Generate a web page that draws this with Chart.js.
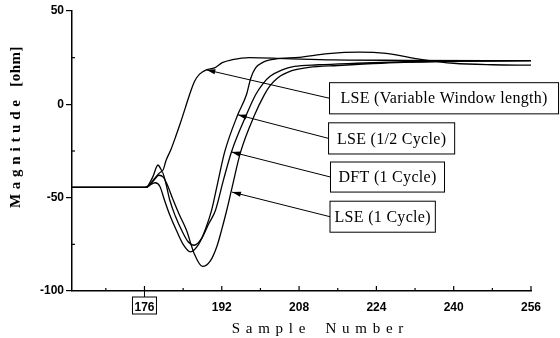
<!DOCTYPE html>
<html>
<head>
<meta charset="utf-8">
<script src="https://cdn.jsdelivr.net/npm/chart.js@4.4.0/dist/chart.umd.min.js"></script>
<style>
  html, body { margin: 0; padding: 0; background: #fff; }
  #wrap { width: 560px; height: 338px; }
  canvas { background: #fff; }
</style>
</head>
<body>
<div id="wrap"><canvas id="impedanceChart" width="560" height="338"></canvas></div>
<script>
// tick values
const xTicks = [176, 192, 208, 224, 240, 256];
const xMinorTicks = [168, 184, 200, 216, 232, 248];
const yTicks = [-100, -50, 0, 50];
const yMinorTicks = [-75, -25, 25];

// LSE (variable window length)
const vwSample = [161, 176.3, 177.7, 178.8, 179.7, 180.5, 181.5, 182.5, 183.5, 184.5, 185.5, 186.4, 187.4, 188.8, 190.5, 192.1, 194.2, 197.7, 205, 215, 230, 256];
const vwMag = [-44.5, -44.5, -39, -32.5, -35.6, -29.8, -24, -17, -9.5, -1.5, 6.5, 12.5, 16.2, 18.5, 19.5, 22.3, 23.9, 25, 24.5, 23.8, 23.6, 23.4];

// LSE (1/2 cycle)
const halfSample = [161, 176, 177, 178.2, 179.2, 180.1, 181.2, 182.6, 184, 185.5, 187.2, 188.6, 189.9, 191.2, 192.6, 195.3, 197.1, 198, 199, 200.5, 203, 208, 214, 220.5, 226, 233.5, 240, 248, 256];
const halfMag = [-44.5, -44.5, -43.5, -42, -44, -51, -59, -67.5, -75, -79, -75, -67, -56.7, -41.5, -25.5, -5.6, 5.1, 14, 19.5, 22.5, 24.2, 25.2, 27.2, 28, 27.3, 24, 22, 21.2, 21];

// DFT (1 cycle)
const dftSample = [161, 176.4, 178, 179.6, 180.4, 181.2, 182.4, 183.7, 185, 186.3, 187.8, 189.3, 190.7, 192.3, 194, 197.1, 199, 200.5, 202, 204.5, 207, 212, 220, 230, 240, 256];
const dftMag = [-44.5, -44.5, -40, -36, -42, -51, -60, -67.5, -73.5, -75.5, -72, -64, -56.7, -41, -25.5, -5.6, 5.1, 11, 15, 18.5, 20.3, 21.2, 22, 22.8, 23.2, 23.4];

// LSE (1 cycle)
const fullSample = [161, 176.3, 177.7, 179, 179.9, 180.7, 181.9, 183.2, 184.7, 186.3, 188, 189.6, 191, 192, 193, 194, 195.9, 198.8, 200.8, 202, 203.5, 206.5, 210, 216, 225, 240, 256];
const fullMag = [-44.5, -44.5, -41.5, -38, -39, -43, -51, -59, -67.5, -80, -86.8, -84, -76, -67, -57, -46, -25.5, -5.6, 5.1, 10, 14, 18, 19.8, 20.8, 22, 23, 23.4];

const toPoints = (xs, ys) => xs.map((v, i) => ({ x: v, y: ys[i] }));

// label boxes (data units) and where their arrows point
const callouts = [
  { text: 'LSE (Variable Window length)', x0: 214.3, x1: 261.7, yTop: 11.6, yBot: -5.1, tipX: 188.8, tipY: 18.5 },
  { text: 'LSE (1/2 Cycle)', x0: 214.1, x1: 240.2, yTop: -9.9, yBot: -26.6, tipX: 195.3, tipY: -5.6 },
  { text: 'DFT (1 Cycle)', x0: 214.5, x1: 238.1, yTop: -30.9, yBot: -47, tipX: 194.0, tipY: -25.5 },
  { text: 'LSE (1 Cycle)', x0: 214.4, x1: 236.2, yTop: -51.9, yBot: -68.5, tipX: 194.1, tipY: -47 }
];

const tickFont = { family: '"Liberation Sans", Arial, sans-serif', size: 12, weight: 'bold' };
const serif = '"Liberation Serif", "Times New Roman", serif';

function seg(ctx, x1, y1, x2, y2) {
  ctx.beginPath();
  ctx.moveTo(x1, y1);
  ctx.lineTo(x2, y2);
  ctx.stroke();
}

function arrow(ctx, fx, fy, tx, ty) {
  seg(ctx, fx, fy, tx, ty);
  const ang = Math.atan2(ty - fy, tx - fx);
  const len = 9, half = 2.6;
  ctx.beginPath();
  ctx.moveTo(tx, ty);
  ctx.lineTo(tx - len * Math.cos(ang) + half * Math.sin(ang), ty - len * Math.sin(ang) - half * Math.cos(ang));
  ctx.lineTo(tx - len * Math.cos(ang) - half * Math.sin(ang), ty - len * Math.sin(ang) + half * Math.cos(ang));
  ctx.closePath();
  ctx.fill();
}

// inner ticks, boxed 176 label, axis titles and the callouts
const decorations = {
  id: 'decorations',
  afterDraw(chart) {
    const { ctx, chartArea: a, scales: { x, y } } = chart;
    ctx.save();
    ctx.strokeStyle = '#000';
    ctx.fillStyle = '#000';

    ctx.lineWidth = 1.2;
    xTicks.forEach(v => {
      const px = x.getPixelForValue(v);
      seg(ctx, px, a.bottom, px, a.bottom - 5);
    });
    xMinorTicks.forEach(v => {
      const px = x.getPixelForValue(v);
      seg(ctx, px, a.bottom, px, a.bottom - 3);
    });
    yMinorTicks.forEach(v => {
      const py = y.getPixelForValue(v);
      seg(ctx, a.left, py, a.left + 3, py);
    });

    // box round the 176 label
    const bx = x.getPixelForValue(176);
    ctx.lineWidth = 1;
    ctx.strokeRect(bx - 12, a.bottom + 6, 24, 17);
    seg(ctx, bx, a.bottom, bx, a.bottom + 6);

    // axis titles
    ctx.textAlign = 'center';
    ctx.textBaseline = 'middle';
    ctx.font = '15px ' + serif;
    ctx.letterSpacing = '1px';
    ctx.fillText('S a m p l e    N u m b e r', 318, 329);
    ctx.save();
    ctx.translate(16, 127);
    ctx.rotate(-Math.PI / 2);
    ctx.font = 'bold 15px ' + serif;
    ctx.letterSpacing = '0.5px';
    ctx.fillText('M a g n i t u d e   [ohm]', 0, 0);
    ctx.restore();

    // callouts
    ctx.font = '16px ' + serif;
    ctx.letterSpacing = '0.3px';
    callouts.forEach(c => {
      const l = x.getPixelForValue(c.x0), r = x.getPixelForValue(c.x1);
      const t = y.getPixelForValue(c.yTop), b = y.getPixelForValue(c.yBot);
      ctx.lineWidth = 1;
      ctx.strokeRect(l, t, r - l, b - t);
      ctx.fillText(c.text, (l + r) / 2, (t + b) / 2 + 1);
      arrow(ctx, l, (t + b) / 2, x.getPixelForValue(c.tipX), y.getPixelForValue(c.tipY));
    });
    ctx.restore();
  }
};

const lineStyle = {
  borderColor: '#000',
  borderWidth: 1.3,
  pointRadius: 0,
  fill: false,
  cubicInterpolationMode: 'monotone'
};

new Chart(document.getElementById('impedanceChart'), {
  type: 'line',
  data: {
    datasets: [
      { label: 'LSE (Variable Window length)', data: toPoints(vwSample, vwMag), ...lineStyle },
      { label: 'LSE (1/2 Cycle)', data: toPoints(halfSample, halfMag), ...lineStyle },
      { label: 'DFT (1 Cycle)', data: toPoints(dftSample, dftMag), ...lineStyle },
      { label: 'LSE (1 Cycle)', data: toPoints(fullSample, fullMag), ...lineStyle }
    ]
  },
  options: {
    responsive: false,
    animation: false,
    layout: { padding: { top: 11, right: 29, left: 0, bottom: 0 } },
    plugins: { legend: { display: false }, tooltip: { enabled: false } },
    scales: {
      x: {
        type: 'linear',
        min: 161,
        max: 256,
        afterBuildTicks: s => { s.ticks = xTicks.map(v => ({ value: v })); },
        afterFit: s => { s.height = 47; },
        grid: { display: false },
        border: { display: true, color: '#000', width: 1.5 },
        ticks: { color: '#000', font: tickFont, padding: 1, maxRotation: 0, autoSkip: false }
      },
      y: {
        min: -100,
        max: 50,
        afterBuildTicks: s => { s.ticks = yTicks.map(v => ({ value: v })); },
        afterFit: s => { s.width = 72; },
        grid: { drawOnChartArea: false, color: '#000', lineWidth: 1.2, tickLength: 6 },
        border: { display: true, color: '#000', width: 1.5 },
        ticks: { color: '#000', font: tickFont, padding: 2 }
      }
    }
  },
  plugins: [decorations]
});
</script>
</body>
</html>
